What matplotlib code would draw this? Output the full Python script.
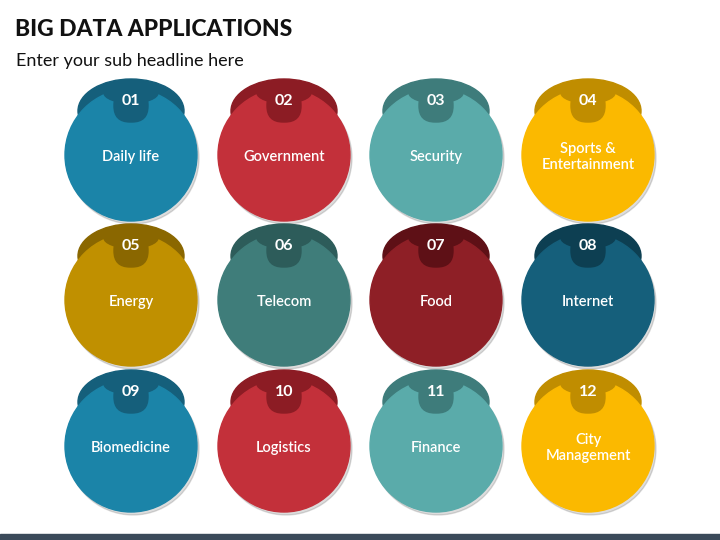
import matplotlib.pyplot as plt
from matplotlib.patches import Circle, Ellipse, FancyBboxPatch

plt.rcParams['font.family'] = ['Lato', 'DejaVu Sans']

numbers = ["01","02","03","04","05","06","07","08","09","10","11","12"]
labels = ["Daily life","Government","Security","Sports &\nEntertainment","Energy","Telecom",
          "Food","Internet","Biomedicine","Logistics","Finance","City\nManagement"]
colors = ["#1b84a8","#c3303a","#5aabaa","#fbb900","#c09000","#3f7d7a",
          "#8e1f26","#155f7b","#1b84a8","#c3303a","#5aabaa","#fbb900"]
caps = ["#155f7b","#8c1c24","#3e7c7b","#c08d00","#8a6700","#2d5c5a",
        "#5e1016","#0d3f52","#155f7b","#8c1c24","#3e7c7b","#c08d00"]
col_x = [131, 284, 436, 588]
row_y = [155, 300, 446]

fig = plt.figure(figsize=(7.2, 5.4), dpi=100)
ax = fig.add_axes([0, 0, 1, 1])
ax.set_xlim(0, 720); ax.set_ylim(540, 0); ax.axis('off')

ax.text(15, 29, "BIG DATA APPLICATIONS", fontsize=16.5, fontweight='black', va='center', color='#111111')
ax.text(16, 61, "Enter your sub headline here", fontsize=13, va='center', color='#111111')
ax.add_patch(plt.Rectangle((0, 534), 720, 6, color='#3b4a5a'))

R = 66
for i in range(12):
    cx = col_x[i % 4]; cy = row_y[i // 4]
    ax.add_patch(Circle((cx + 2, cy + 3), R, color='#00000022', zorder=1))
    ax.add_patch(Ellipse((cx, cy - 44), 106, 64, color=caps[i], zorder=2))
    ax.add_patch(Circle((cx, cy), R, color=colors[i], zorder=3))
    ax.add_patch(FancyBboxPatch((cx - 17, cy - 66), 34, 33, boxstyle="round,pad=0,rounding_size=16",
                                color=caps[i], zorder=4))
    ax.add_patch(Ellipse((cx, cy - 62), 54, 20, color=caps[i], zorder=4))
    ax.text(cx, cy - 54, numbers[i], fontsize=11.5, fontweight='bold', color='white',
            ha='center', va='center', zorder=5)
    ax.text(cx, cy + 2, labels[i], fontsize=10.5, fontweight='semibold', color='white', ha='center', va='center',
            zorder=5, linespacing=1.2)

fig.savefig("out.png", dpi=100)
